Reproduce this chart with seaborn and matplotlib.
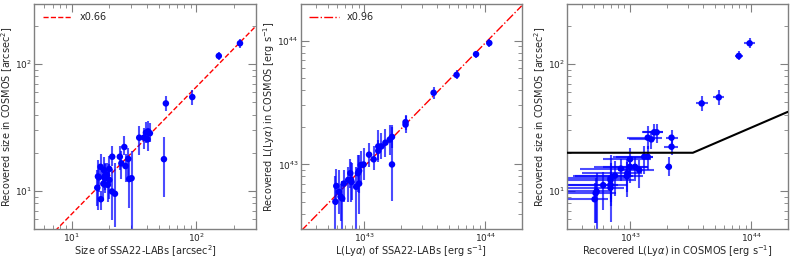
import numpy as np
import pandas as pd
import seaborn as sns
import matplotlib
matplotlib.use("Agg")
import matplotlib.pyplot as plt
from matplotlib.ticker import LogLocator, NullFormatter, LogFormatterSciNotation

# ---------------- Panel 1: size vs size ----------------
size_ssa22 = [225, 152, 93, 57, 55, 39.4, 42.4, 40.6, 34.8, 38.0, 41.0,
              26.4, 24.3, 28.4, 21.1, 27.0, 25.0, 30.2, 28.9, 21.0, 22.2,
              17.1, 16.0, 16.2, 18.1, 20.0, 18.4, 20.0, 17.9, 17.0, 19.0,
              16.5, 19.5, 18.5]
size_cosmos = [146, 116, 55, 49, 17.8, 28.8, 28.5, 25.5, 26.3, 26.3, 29.5,
               22.2, 18.6, 17.9, 18.6, 15.7, 16.5, 12.6, 12.4, 9.9, 9.5,
               8.6, 10.6, 13.0, 14.6, 14.9, 12.6, 12.2, 11.4, 15.5, 13.5,
               12.8, 11.2, 13.2]
size_err_lo = [12, 8, 7, 6, 8.9, 5, 4, 5, 7, 5, 5,
               3, 4, 6, 3, 4, 4, 7.6, 5, 4, 4.3,
               1.5, 3, 5.9, 4, 3.5, 3, 3.5, 3, 3, 3,
               3, 3, 3]
size_err_hi = [12, 8, 8, 7, 9, 6, 6, 5, 6, 5, 6,
               5, 4, 4, 4, 4, 4, 8, 6, 5, 7,
               1.3, 4, 4.5, 4, 4, 4, 4, 4, 4, 3,
               3, 3, 3]

# ---------------- Panel 2: L vs L (units of 1e43 erg/s) ----------------
lum_ssa22 = [10.8, 8.4, 5.8, 3.75, 2.2, 2.2, 1.7, 1.7, 1.63, 1.5, 1.39,
             1.31, 1.31, 1.2, 1.1, 0.99, 0.94, 0.91, 0.89, 0.86, 0.91,
             0.77, 0.78, 0.79, 0.74, 0.68, 0.64, 0.66, 0.62, 0.59, 0.58]
lum_cosmos = [9.6, 7.8, 5.3, 3.8, 2.1, 2.2, 1.67, 1.0, 1.59, 1.5, 1.4,
              1.4, 1.29, 1.1, 1.2, 1.0, 0.99, 0.89, 0.85, 0.66, 0.70,
              0.85, 0.75, 0.72, 0.75, 0.70, 0.55, 0.53, 0.60, 0.67, 0.50]
lum_err_lo = [0.7, 0.5, 0.4, 0.4, 0.3, 0.3, 0.3, 0.49, 0.4, 0.35, 0.3,
              0.35, 0.2, 0.2, 0.25, 0.25, 0.3, 0.3, 0.25, 0.37, 0.3,
              0.2, 0.25, 0.2, 0.25, 0.2, 0.2, 0.23, 0.2, 0.2, 0.2]
lum_err_hi = [0.7, 0.5, 0.5, 0.4, 0.35, 0.3, 0.4, 1.0, 0.5, 0.45, 0.4,
              0.5, 0.3, 0.3, 0.3, 0.35, 0.3, 0.3, 0.35, 0.3, 0.2,
              0.25, 0.3, 0.3, 0.2, 0.2, 0.15, 0.2, 0.3, 0.25, 0.3]
lum_xerr = [0.5, 0.3, 0.2, 0.1, 0.05, 0.05, 0.03, 0.03, 0.03, 0.03, 0.03,
            0.03, 0.03, 0.03, 0.03, 0.02, 0.02, 0.02, 0.02, 0.02, 0.02,
            0.02, 0.02, 0.02, 0.02, 0.02, 0.02, 0.02, 0.02, 0.02, 0.02]

# ---------------- Panel 3: size vs L in COSMOS ----------------
lum3 = [9.7, 7.9, 5.4, 3.9, 2.2, 2.2, 2.09, 1.66, 1.58, 1.5, 1.4,
        1.4, 1.31, 1.19, 1.1, 1.0, 1.0, 0.95, 0.94, 0.84, 0.75,
        0.69, 0.69, 0.69, 0.69, 0.60, 0.53, 0.52, 0.51]
size3 = [146, 116, 54.7, 49, 26.3, 22.3, 15.5, 29, 29, 25.5, 26.3,
         18.6, 18.6, 14.6, 15.5, 17.8, 15.5, 13.8, 13.0, 15.0, 13.2,
         12.2, 12.6, 11.2, 10.6, 11.1, 9.9, 9.6, 8.6]
lum3_err_lo = [0.9, 0.6, 0.6, 0.4, 0.22, 0.3, 0.15, 0.4, 0.3, 0.52, 0.45,
               0.68, 0.55, 0.4, 0.5, 0.4, 0.5, 0.55, 0.6, 0.45, 0.4,
               0.39, 0.45, 0.45, 0.4, 0.35, 0.3, 0.3, 0.2]
lum3_err_hi = [1.0, 0.6, 0.6, 0.5, 0.3, 0.3, 0.15, 0.2, 0.28, 0.07, 0.45,
               0.15, 0.25, 0.4, 0.3, 0.5, 0.4, 0.3, 0.35, 0.3, 0.3,
               0.43, 0.2, 0.25, 0.2, 0.2, 0.15, 0.25, 0.15]
size3_err_lo = [12, 8, 7, 6, 4, 3, 2.5, 5, 4, 4, 5,
                4, 5, 4, 3, 5, 4, 4, 4, 3, 4,
                6.5, 4, 3, 3, 4, 5, 4, 3]
size3_err_hi = [14, 10, 8, 7, 4, 3, 3, 5, 5, 4, 6,
                4, 4, 3, 3, 4, 3, 4, 4, 3, 4,
                7, 4, 3, 3, 3, 4, 3, 3]

# model / boundary lines
ratio1 = 0.66
ratio2 = 0.96
line1_x = [5, 300]
line2_x = [3e42, 2e44]
bound_L = [3e42, 3.3e43, 2e44]
bound_size = [20, 20, 42]

E43 = 1e43

sns.set_style("ticks")
plt.rcParams['font.family'] = ['DejaVu Sans']
plt.rcParams['mathtext.fontset'] = 'dejavusans'

fig = plt.figure(figsize=(7.93, 2.58), dpi=100)
bottom, height = 0.112, 0.874
width = 0.2787
ax1 = fig.add_axes([0.0435, bottom, width, height])
ax2 = fig.add_axes([0.3792, bottom, width, height])
ax3 = fig.add_axes([0.7146, bottom, width, height])

ecol = (0.0, 0.0, 1.0, 0.7)


def style(ax):
    ax.set_xscale('log')
    ax.set_yscale('log')
    for s in ax.spines.values():
        s.set_color('#808080')
        s.set_linewidth(1.0)
    ax.tick_params(which='both', direction='in', top=True, right=True,
                   color='#808080', labelsize=6.5, pad=1.5)
    ax.tick_params(which='major', length=6, width=0.8)
    ax.tick_params(which='minor', length=3, width=0.6)
    ax.xaxis.set_major_locator(LogLocator(base=10))
    ax.yaxis.set_major_locator(LogLocator(base=10))
    ax.xaxis.set_minor_locator(LogLocator(base=10, subs=np.arange(2, 10)))
    ax.yaxis.set_minor_locator(LogLocator(base=10, subs=np.arange(2, 10)))
    ax.xaxis.set_major_formatter(LogFormatterSciNotation())
    ax.yaxis.set_major_formatter(LogFormatterSciNotation())
    ax.xaxis.set_minor_formatter(NullFormatter())
    ax.yaxis.set_minor_formatter(NullFormatter())


LFS = 7

# Panel 1
style(ax1)
d1 = pd.DataFrame({'x': size_ssa22, 'y': size_cosmos})
ax1.errorbar(d1.x, d1.y, yerr=[size_err_lo, size_err_hi], fmt='none',
             ecolor=ecol, elinewidth=1.5, capsize=0, zorder=2)
sns.scatterplot(data=d1, x='x', y='y', ax=ax1, color='blue', s=22,
                edgecolor='none', zorder=3, legend=False)
lx1 = np.array(line1_x, dtype=float)
ax1.plot(lx1, ratio1 * lx1, color='red', ls='--', lw=1.0,
         label='x%.2f' % ratio1, zorder=1)
ax1.set_xlim(5, 300)
ax1.set_ylim(5, 300)
ax1.set_xlabel('Size of SSA22-LABs [arcsec$^2$]', fontsize=LFS, labelpad=0)
ax1.set_ylabel('Recovered size in COSMOS [arcsec$^2$]', fontsize=LFS, labelpad=0)
ax1.legend(loc='upper left', frameon=False, fontsize=7, handlelength=3)

# Panel 2
style(ax2)
d2 = pd.DataFrame({'x': np.array(lum_ssa22) * E43, 'y': np.array(lum_cosmos) * E43})
ax2.errorbar(d2.x, d2.y,
             xerr=np.array(lum_xerr) * E43,
             yerr=[np.array(lum_err_lo) * E43, np.array(lum_err_hi) * E43],
             fmt='none', ecolor=ecol, elinewidth=1.5, capsize=0, zorder=2)
sns.scatterplot(data=d2, x='x', y='y', ax=ax2, color='blue', s=22,
                edgecolor='none', zorder=3, legend=False)
lx2 = np.array(line2_x, dtype=float)
ax2.plot(lx2, ratio2 * lx2, color='red', ls='-.', lw=1.0,
         label='x%.2f' % ratio2, zorder=1)
ax2.set_xlim(3e42, 2e44)
ax2.set_ylim(3e42, 2e44)
ax2.set_xlabel(r'L(Ly$\alpha$) of SSA22-LABs [erg s$^{-1}$]', fontsize=LFS, labelpad=0)
ax2.set_ylabel(r'Recovered L(Ly$\alpha$) in COSMOS [erg s$^{-1}$]', fontsize=LFS, labelpad=0)
ax2.legend(loc='upper left', frameon=False, fontsize=7, handlelength=3)

# Panel 3
style(ax3)
d3 = pd.DataFrame({'x': np.array(lum3) * E43, 'y': size3})
ax3.errorbar(d3.x, d3.y,
             xerr=[np.array(lum3_err_lo) * E43, np.array(lum3_err_hi) * E43],
             yerr=[size3_err_lo, size3_err_hi],
             fmt='none', ecolor=ecol, elinewidth=1.5, capsize=0, zorder=2)
sns.scatterplot(data=d3, x='x', y='y', ax=ax3, color='blue', s=22,
                edgecolor='none', zorder=3, legend=False)
ax3.plot(bound_L, bound_size, color='black', lw=1.5, zorder=4)
ax3.set_xlim(3e42, 2e44)
ax3.set_ylim(5, 300)
ax3.set_xlabel(r'Recovered L(Ly$\alpha$) in COSMOS [erg s$^{-1}$]', fontsize=LFS, labelpad=0)
ax3.set_ylabel('Recovered size in COSMOS [arcsec$^2$]', fontsize=LFS, labelpad=0)

fig.savefig('out.png', dpi=100)
